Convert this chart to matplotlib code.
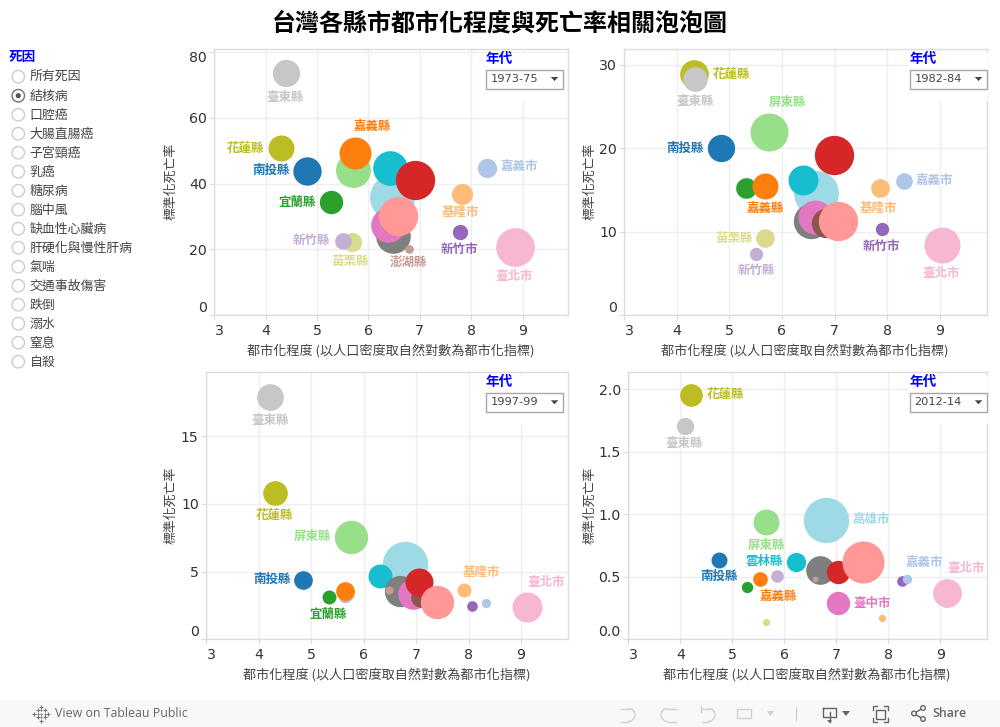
import numpy as np
import matplotlib
matplotlib.use('Agg')
import matplotlib.pyplot as plt
from matplotlib.patches import Rectangle, Circle, Arc, Polygon
from matplotlib.transforms import ScaledTranslation

CJK = ['Noto Sans CJK TC', 'DejaVu Sans']
nan = float('nan')

title = '台灣各縣市都市化程度與死亡率相關泡泡圖'
xlabel = '都市化程度 (以人口密度取自然對數為都市化指標)'
ylabel = '標準化死亡率'
legend_title = '死因'
year_title = '年代'
causes = ['所有死因', '結核病', '口腔癌', '大腸直腸癌', '子宮頸癌', '乳癌', '糖尿病', '腦中風',
          '缺血性心臟病', '肝硬化與慢性肝病', '氣喘', '交通事故傷害', '跌倒', '溺水', '窒息', '自殺']
selected_cause = '結核病'

counties = ['花蓮縣', '臺東縣', '南投縣', '宜蘭縣', '屏東縣', '苗栗縣', '新竹縣', '嘉義縣', '高雄市', '雲林縣',
            '臺南市', '臺中市', '桃園縣', '彰化縣', '新北市', '澎湖縣', '基隆市', '新竹市', '嘉義市', '臺北市']
colors = ['#bcbd22', '#c7c7c7', '#1f77b4', '#2ca02c', '#98df8a', '#dbdb8d', '#c5b0d5', '#ff7f0e', '#9edae5', '#17becf',
          '#7f7f7f', '#e377c2', '#8c564b', '#d62728', '#ff9896', '#c49c94', '#ffbb78', '#9467bd', '#aec7e8', '#f7b6d2']

x_1973 = [4.29, 4.40, 4.81, 5.27, 5.69, 5.68, 5.50, 5.73, 6.45, 6.41, 6.48, 6.39, 6.50, 6.91, 6.58, 6.79, 7.82, 7.79, 8.31, 8.86]
y_1973 = [50.8, 73.5, 43.8, 34.3, 44.2, 22.2, 22.7, 49.3, 36.0, 44.7, 24.1, 27.4, 29.0, 41.0, 30.2, 20.2, 36.9, 25.4, 44.8, 20.7]
w_1973 = [60.8, 67.2, 72.3, 49, 110, 33.6, 25, 92.2, 182, 108, 108, 108, 72.3, 139, 139, 6.8, 39.7, 21.2, 33.6, 134.6]

x_1982 = [4.33, 4.35, 4.84, 5.31, 5.76, 5.68, 5.51, 5.68, 6.65, 6.40, 6.56, 6.62, 6.84, 6.99, 7.07, nan, 7.86, 7.91, 8.33, 9.05]
y_1982 = [28.9, 28.3, 20.0, 15.25, 21.9, 9.2, 7.3, 15.45, 14.7, 16.25, 11.25, 11.8, 11.0, 19.25, 11.25, nan, 15.2, 10.3, 16.1, 8.4]
w_1982 = [74, 54.8, 67.2, 38.4, 130, 31.4, 16, 60.8, 182, 81, 112.4, 104, 77.4, 139, 139, nan, 31.4, 16, 25, 116.6]

x_1997 = [4.30, 4.22, 4.84, 5.34, 5.76, 5.66, 5.65, 5.64, 6.78, 6.32, 6.69, 6.94, 7.10, 7.06, 7.39, 6.49, 7.91, 8.07, 8.33, 9.11]
y_1997 = [10.79, 17.88, 4.41, 3.13, 7.56, 3.40, 3.20, 3.57, 5.54, 4.66, 3.57, 3.33, 3.15, 4.21, 2.76, 3.67, 3.62, 2.49, 2.66, 2.36]
w_1997 = [54.8, 64, 31.4, 17.6, 100, 27, 16, 31.4, 185, 51.8, 88.4, 84.6, 38.4, 70.6, 100, 5.8, 17.6, 10.2, 7.8, 81]

x_2012 = [4.21, 4.09, 4.75, 5.29, 5.65, 5.65, 5.86, 5.53, 6.80, 6.22, 6.69, 7.04, nan, 7.03, 7.52, 6.58, 7.88, 8.26, 8.35, 9.12]
y_2012 = [1.952, 1.707, 0.636, 0.420, 0.939, 0.141, 0.505, 0.479, 0.957, 0.622, 0.556, 0.290, nan, 0.537, 0.620, 0.484, 0.173, 0.463, 0.484, 0.372]
w_2012 = [46.2, 27, 23, 11.6, 60.8, 4.8, 14.4, 19.4, 185, 33.6, 74, 49, nan, 49, 159, 3.2, 4.8, 10.2, 7.8, 74]

years = ['1973-75', '1982-84', '1997-99', '2012-14']
xs = [x_1973, x_1982, x_1997, x_2012]
ys = [y_1973, y_1982, y_1997, y_2012]
ws = [w_1973, w_1982, w_1997, w_2012]
yticks = [[0, 20, 40, 60, 80], [0, 10, 20, 30], [0, 5, 10, 15], [0.0, 0.5, 1.0, 1.5, 2.0]]
ylims = [(0, 80.9), (0, 31.9), (0, 19.73), (0, 2.136)]
xlims = [(3, 9.89), (3, 9.906), (3, 9.90), (3, 9.90)]
xticks = [3, 4, 5, 6, 7, 8, 9]
# panel boxes in figure pixels: left, top, right, bottom
boxes = [(214.3, 49, 568.3, 315.3), (624.3, 49, 987.3, 315.3), (206.3, 372.3, 568.3, 639.3), (628.3, 372.3, 987.3, 639.3)]
xlabel_pos = [(390.7, 351), (805, 351), (386.7, 675), (807, 675)]
ylabel_pos = [(170.5, 181), (589.5, 181), (170.5, 505), (589.5, 505)]
dropdown_left = [486.3, 910.3, 486.3, 910.3]

# label offsets in pixels from each bubble
labels = [
    {'臺東縣': (-1, -24), '嘉義縣': (18, 27), '花蓮縣': (-35, 0), '南投縣': (-36, 1), '宜蘭縣': (-34, 0), '嘉義市': (32, 1),
     '基隆市': (-1, -19), '新竹市': (-1, -18), '新竹縣': (-31, 0), '苗栗縣': (-2, -19), '澎湖縣': (-1, -13), '臺北市': (-1, -29)},
    {'花蓮縣': (37, 0), '臺東縣': (0, -22), '屏東縣': (18, 30), '南投縣': (-36, 0), '嘉義縣': (0, -22), '嘉義市': (30, 1),
     '基隆市': (-1, -20), '新竹市': (-1, -17), '臺北市': (-1, -28), '苗栗縣': (-31, 0), '新竹縣': (0, -16)},
    {'臺東縣': (0, -23), '花蓮縣': (0, -22), '屏東縣': (-39, 1), '南投縣': (-31, 0), '宜蘭縣': (-1, -17), '基隆市': (18, 18), '臺北市': (19, 25)},
    {'花蓮縣': (34, 1), '臺東縣': (-1, -18), '高雄市': (45, 0), '屏東縣': (0, -23), '雲林縣': (-32, 0), '南投縣': (0, -17),
     '嘉義縣': (18, -17), '臺中市': (34, 0), '嘉義市': (18, 16), '臺北市': (19, 24)},
]
# 1973-75 is the one panel where 新北市 lies over 彰化縣
draw_last = [['新北市'], [], [], []]

W, H = 1000, 727
BORDER = '#dcdcdc'
GRID = '#eeeeee'
TICKTXT = '#333333'
LABELTXT = '#444444'
BLUE = '#0000ff'

fig = plt.figure(figsize=(10, 7.27), dpi=100, facecolor='white')
ov = fig.add_axes([0, 0, 1, 1], zorder=10)
ov.set_xlim(0, W)
ov.set_ylim(H, 0)
ov.axis('off')
ov.patch.set_alpha(0)


def shift(lab, dx, dy):
    lab.set_transform(lab.get_transform() + ScaledTranslation(dx / 100, dy / 100, fig.dpi_scale_trans))


for i in range(4):
    l, t, r, b = boxes[i]
    ax = fig.add_axes([l / W, 1 - b / H, (r - l) / W, (b - t) / H])
    ax.set_xlim(*xlims[i])
    ax.set_ylim(*ylims[i])
    ax.set_xticks(xticks)
    ax.set_yticks(yticks[i])
    if i == 3:
        ax.set_yticklabels([f'{v:.1f}' for v in yticks[i]])
    ax.grid(True, color=GRID, lw=1)
    ax.set_axisbelow(True)
    for s in ax.spines.values():
        s.set_color(BORDER)
        s.set_linewidth(1)
    ax.tick_params(axis='y', length=3.6, width=0.8, color=BORDER, labelcolor=TICKTXT, labelsize=10.2, pad=1.8)
    ax.tick_params(axis='x', length=3.6, width=0.8, color=BORDER, labelcolor=TICKTXT, labelsize=10.2, pad=3.0)

    order = [j for j, c in enumerate(counties) if c not in draw_last[i]] + \
            [j for j, c in enumerate(counties) if c in draw_last[i]]
    for z, j in enumerate(order):
        if np.isnan(xs[i][j]):
            continue
        ax.scatter(xs[i][j], ys[i][j], s=5.76 * ws[i][j], color=colors[j], linewidths=0, zorder=3 + z * 0.01, clip_on=False)
    for c, off in labels[i].items():
        j = counties.index(c)
        ax.annotate(c, xy=(xs[i][j], ys[i][j]), xytext=off, textcoords='offset pixels', ha='center', va='center',
                    color=colors[j], fontsize=9, fontweight='bold', family=CJK, zorder=5)

    ax.set_xlabel(xlabel, family=CJK, fontsize=9.45, color=LABELTXT, va='center', ha='center')
    ax.set_ylabel(ylabel, family=CJK, fontsize=9.3, color=LABELTXT, va='center', ha='center')
    ax.xaxis.set_label_coords(*xlabel_pos[i], transform=ov.transData)
    ax.yaxis.set_label_coords(*ylabel_pos[i], transform=ov.transData)

    # edge tick labels are nudged into the plot, as in the reference
    fig.canvas.draw()
    shift(ax.get_xticklabels()[0], 5, 0)
    shift(ax.get_yticklabels()[0], 0, 9)
    if i == 0:
        shift(ax.get_yticklabels()[-1], 0, -5)

    # year selector
    dl = dropdown_left[i]
    wr = min(r + 1, dl + 79.5) if i % 2 else r - 2
    ov.add_patch(Rectangle((dl - 2.3, t + 4), wr - dl + 2.3, 48, fc='white', ec='none'))
    ov.text(dl - 1, t + 10, year_title, family=CJK, fontsize=9.8, fontweight='bold', color=BLUE, ha='left', va='center')
    ov.add_patch(Rectangle((dl, t + 20.5), 77, 19, fc='white', ec='#a8a8a8', lw=1))
    ov.text(dl + 4, t + 30, years[i], fontsize=8.2, color='#444444', ha='left', va='center')
    ov.add_patch(Polygon([(dl + 64.5, t + 28), (dl + 72, t + 28), (dl + 68.2, t + 32)], fc='#444444', ec='none'))

ov.text(500, 24, title, family=CJK, fontsize=17.3, fontweight='bold', color='black', ha='center', va='center')

# cause selector
ov.text(8.5, 56.5, legend_title, family=CJK, fontsize=9.8, fontweight='bold', color=BLUE, ha='left', va='center')
for k, c in enumerate(causes):
    yy = 76.7 + 19 * k
    ov.add_patch(Circle((18.3, yy), 6.2, fc='white', ec='#cccccc', lw=1))
    if c == selected_cause:
        ov.add_patch(Circle((18.3, yy), 6.2, fc='white', ec='#777777', lw=1))
        ov.add_patch(Circle((18.3, yy), 2.6, fc='#555555', ec='none'))
    ov.text(29.5, yy + 0.8, c, family=CJK, fontsize=9.3, color=LABELTXT, ha='left', va='center')

# toolbar
ov.add_patch(Rectangle((0, 700), W, 27, fc='#f8f8f8', ec='none'))
TOOL = '#666666'
DIS = '#d0d0d0'
for dx in (-7, -3.5, 0, 3.5, 7):
    for dy in (-7, -3.5, 0, 3.5, 7):
        if abs(dx) + abs(dy) > 7.5 or (dx != 0 and dy != 0 and abs(dx) + abs(dy) < 7):
            continue
        ov.plot(41 + dx, 713.5 + dy, marker='+', ms=3 if abs(dx) + abs(dy) > 4 else 2, mew=0.8, color='#777777')
ov.text(55, 713.5, 'View on Tableau Public', family='Open Sans', fontsize=8.9, color=TOOL, ha='left', va='center')
ov.text(932, 713.5, 'Share', family='Open Sans', fontsize=8.9, fontweight='semibold', color=TOOL, ha='left', va='center')
# undo / redo / revert / pause
ov.add_patch(Arc((628, 715), 14, 13, theta1=-90, theta2=90, color=DIS, lw=1))
ov.plot([621, 628], [708.5, 708.5], color=DIS, lw=1)
ov.plot([621, 628], [721.5, 721.5], color=DIS, lw=1)
ov.add_patch(Arc((668, 715), 14, 13, theta1=90, theta2=270, color=DIS, lw=1))
ov.plot([668, 676], [708.5, 708.5], color=DIS, lw=1)
ov.plot([668, 676], [721.5, 721.5], color=DIS, lw=1)
ov.add_patch(Arc((708, 715), 14, 13, theta1=-90, theta2=90, color=DIS, lw=1))
ov.plot([702, 708], [708.5, 708.5], color=DIS, lw=1)
ov.plot([702, 708], [721.5, 721.5], color=DIS, lw=1)
ov.plot([701, 701], [706, 712], color=DIS, lw=1)
ov.add_patch(Rectangle((737, 709), 14, 9, fc='none', ec=DIS, lw=1))
ov.add_patch(Polygon([(767, 711), (774, 711), (770.5, 716)], fc=DIS, ec='none'))
ov.plot([795.5, 795.5], [707, 720], color=DIS, lw=1)
# download
ov.plot([823, 823, 836, 836, 823], [708, 717, 717, 708, 708], color=TOOL, lw=1)
ov.plot([829.5, 829.5], [712, 722], color=TOOL, lw=1)
ov.add_patch(Polygon([(827, 720), (832, 720), (829.5, 723)], fc=TOOL, ec='none'))
ov.add_patch(Polygon([(842, 711), (850, 711), (846, 716)], fc=TOOL, ec='none'))
# fullscreen
ov.add_patch(Rectangle((876, 710), 9, 9, fc='none', ec=TOOL, lw=1))
for px, py, dx, dy in [(873, 706, 1, 1), (888, 706, -1, 1), (873, 722, 1, -1), (888, 722, -1, -1)]:
    ov.plot([px + 4 * dx, px, px], [py, py, py + 4 * dy], color=TOOL, lw=1)
# share
pts = [(914, 713.5), (923, 708), (923, 719)]
ov.plot([pts[1][0], pts[0][0], pts[2][0]], [pts[1][1], pts[0][1], pts[2][1]], color=TOOL, lw=1)
for p in pts:
    ov.add_patch(Circle(p, 2.3, fc='#f8f8f8', ec=TOOL, lw=1, zorder=4))

fig.savefig('out.png', dpi=100)
